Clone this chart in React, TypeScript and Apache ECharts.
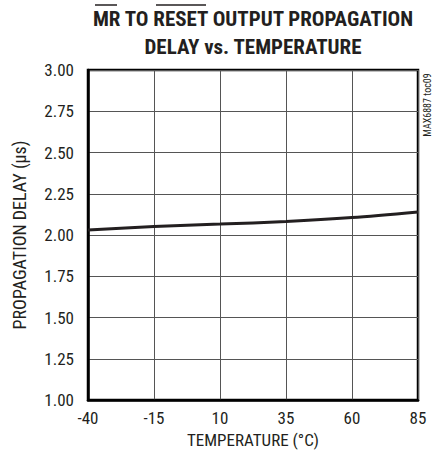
import React, { useEffect, useRef } from "react";
import * as echarts from "echarts";

const temperatures = ["-40", "-15", "10", "35", "60", "85"];
const delayUs = [2.03, 2.052, 2.066, 2.082, 2.106, 2.14];
const yMin = 1.0;
const yMax = 3.0;
const yStep = 0.25;

const titleLine1 = "MR TO RESET OUTPUT PROPAGATION";
const titleLine2 = "DELAY vs. TEMPERATURE";
const xName = "TEMPERATURE (°C)";
const yName = "PROPAGATION DELAY (µs)";
const sideNote = "MAX6887 toc09";

const FONT = "'Liberation Sans Narrow', 'Roboto Condensed', 'DejaVu Sans Condensed', 'Liberation Sans', sans-serif";

export default function App() {
  const ref = useRef<HTMLDivElement>(null);
  useEffect(() => {
    if (!ref.current) return;
    const chart = echarts.init(ref.current, undefined, { renderer: "svg" });
    chart.setOption({
      animation: false,
      backgroundColor: "#ffffff",
      grid: {
        left: 88,
        top: 70,
        width: 330,
        height: 330,
        show: true,
        borderColor: "#000",
        borderWidth: 2.5,
        backgroundColor: "transparent",
      },
      xAxis: {
        type: "category",
        data: temperatures,
        boundaryGap: false,
        name: xName,
        nameLocation: "middle",
        nameGap: 31,
        nameTextStyle: { fontFamily: FONT, fontSize: 17, color: "#231f20" },
        axisLine: { show: true, lineStyle: { color: "#000", width: 2.5 } },
        axisTick: { show: false },
        axisLabel: { fontFamily: FONT, fontSize: 17, color: "#231f20", margin: 9 },
        splitLine: { show: true, lineStyle: { color: "#555", width: 1 } },
      },
      yAxis: {
        type: "value",
        min: yMin,
        max: yMax,
        interval: yStep,
        name: yName,
        nameLocation: "middle",
        nameGap: 60,
        nameTextStyle: { fontFamily: FONT, fontSize: 18, color: "#231f20" },
        axisLine: { show: true, lineStyle: { color: "#000", width: 2.5 } },
        axisTick: { show: false },
        axisLabel: {
          fontFamily: FONT,
          fontSize: 17,
          color: "#231f20",
          margin: 14,
          formatter: (v: number) => v.toFixed(2),
        },
        splitLine: { show: true, lineStyle: { color: "#555", width: 1 } },
      },
      series: [
        {
          type: "line",
          data: delayUs,
          smooth: 0.3,
          symbol: "none",
          lineStyle: { color: "#231f20", width: 3 },
        },
      ],
      graphic: [
        {
          type: "text",
          x: 253,
          y: 19,
          style: {
            text: titleLine1,
            fontFamily: FONT,
            fontWeight: "bold",
            fontSize: 21,
            fill: "#231f20",
            textAlign: "center",
            textVerticalAlign: "middle",
          },
        },
        {
          type: "text",
          x: 253,
          y: 47,
          style: {
            text: titleLine2,
            fontFamily: FONT,
            fontWeight: "bold",
            fontSize: 21,
            fill: "#231f20",
            textAlign: "center",
            textVerticalAlign: "middle",
          },
        },
        {
          type: "line",
          shape: { x1: 95, y1: 5, x2: 117, y2: 5 },
          style: { stroke: "#231f20", lineWidth: 1.5 },
        },
        {
          type: "line",
          shape: { x1: 156, y1: 5, x2: 206, y2: 5 },
          style: { stroke: "#231f20", lineWidth: 1.5 },
        },
        {
          type: "text",
          x: 427,
          y: 105,
          rotation: Math.PI / 2,
          style: {
            text: sideNote,
            fontFamily: FONT,
            fontSize: 10,
            fill: "#231f20",
            textAlign: "center",
            textVerticalAlign: "middle",
          },
        },
      ],
    });
    return () => chart.dispose();
  }, []);
  return (
    <div
      ref={ref}
      style={{ position: "absolute", left: 0, top: 0, width: 438, height: 456 }}
    />
  );
}
